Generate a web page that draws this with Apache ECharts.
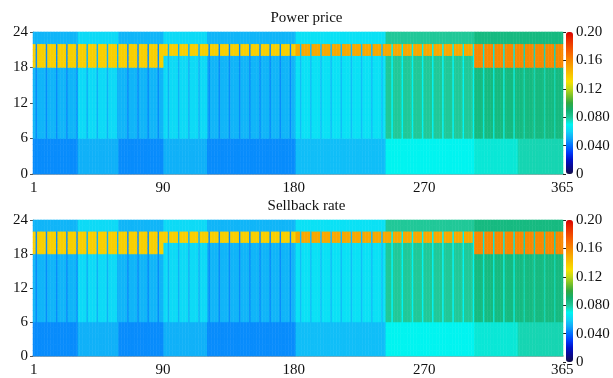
<!DOCTYPE html>
<html style="height: 100%">
<head>
    <meta charset="utf-8">
</head>
<body style="height: 100%; margin: 0">
    <div id="container" style="width: 613px; height: 378px"></div>
    <script src="https://cdn.jsdelivr.net/npm/echarts@6/dist/echarts.min.js"></script>
    <script type="text/javascript">
        // days per month, Jan 1 falls on a Friday (0 = Sunday); Sundays use the rest-day plan
        var monthDays = [31, 28, 31, 30, 31, 30, 31, 31, 30, 31, 30, 31];
        var jan1Weekday = 5;
        var restWeekdays = [0];
        // 'w' = winter plan (long evening peak), 's' = summer plan (short peak)
        var monthSeason = ['w', 'w', 'w', 's', 's', 's', 's', 's', 's', 's', 'w', 'w'];

        // period of every hour: 0 off-peak, 1 mid-peak, 2 on-peak
        var winterHours = [0, 0, 0, 0, 0, 0, 1, 1, 1, 1, 1, 1, 1, 1, 1, 1, 1, 1, 2, 2, 2, 2, 1, 1];
        var summerHours = [0, 0, 0, 0, 0, 0, 1, 1, 1, 1, 1, 1, 1, 1, 1, 1, 1, 1, 1, 1, 2, 2, 1, 1];
        var restDayHours = [0, 0, 0, 0, 0, 0, 0, 0, 0, 0, 0, 0, 0, 0, 0, 0, 0, 0, 0, 0, 0, 0, 1, 1];

        // monthly rates
        var priceOff  = [0.045, 0.052, 0.045, 0.052, 0.045, 0.045, 0.055, 0.055, 0.070, 0.070, 0.073, 0.077];
        var priceMid  = [0.053, 0.062, 0.053, 0.062, 0.053, 0.053, 0.064, 0.064, 0.080, 0.080, 0.086, 0.086];
        var pricePeak = [0.136, 0.136, 0.136, 0.136, 0.136, 0.136, 0.150, 0.150, 0.150, 0.150, 0.160, 0.160];

        var sellOff  = [0.045, 0.052, 0.045, 0.052, 0.045, 0.045, 0.055, 0.055, 0.070, 0.070, 0.073, 0.077];
        var sellMid  = [0.053, 0.062, 0.053, 0.062, 0.053, 0.053, 0.064, 0.064, 0.080, 0.080, 0.086, 0.086];
        var sellPeak = [0.136, 0.136, 0.136, 0.136, 0.136, 0.136, 0.150, 0.150, 0.150, 0.150, 0.160, 0.160];

        var xTickDays = [1, 90, 180, 270, 365];
        var barTicks = [0, 0.04, 0.08, 0.12, 0.16, 0.2];
        var barTickLabels = ['0', '0.040', '0.080', '0.12', '0.16', '0.20'];

        // colour scale, one colour every 0.01 from 0 to 0.20
        var jetColors = ['#141048', '#0a0890', '#0010c8', '#0038f8', '#0070ff', '#10a8f8', '#10d4f8',
            '#00f4f0', '#20c898', '#10b070', '#30a840', '#78c028', '#c0d818', '#f8e000', '#f8c400',
            '#f8a800', '#f88800', '#f86800', '#f04800', '#e82800', '#d80000'];

        var days = [];
        for (var i = 1; i <= 365; i++) days.push(String(i));
        var hours = [];
        for (var h = 0; h < 24; h++) hours.push(String(h));

        function buildCells(off, mid, peak) {
            var cells = [];
            var day = 0;
            monthDays.forEach(function (n, m) {
                var rates = [off[m], mid[m], peak[m]];
                for (var k = 0; k < n; k++) {
                    var dow = (jan1Weekday + day) % 7;
                    var plan = restWeekdays.indexOf(dow) >= 0 ? restDayHours
                        : (monthSeason[m] === 'w' ? winterHours : summerHours);
                    for (var h = 0; h < 24; h++) {
                        cells.push([day, h, rates[plan[h]]]);
                    }
                    day++;
                }
            });
            return cells;
        }

        var font = 'Liberation Serif';
        var gridTops = [32, 220];
        var titles = ['Power price', 'Sellback rate'];

        function dayAxis(gi) {
            return {
                gridIndex: gi, type: 'category', data: days,
                axisLine: { lineStyle: { color: '#8a8a8a', width: 1.5 } },
                axisTick: {
                    alignWithLabel: true, length: 3, lineStyle: { color: '#555' },
                    interval: function (idx) { return xTickDays.indexOf(idx + 1) >= 0; }
                },
                axisLabel: {
                    interval: function (idx) { return xTickDays.indexOf(idx + 1) >= 0; },
                    fontFamily: font, fontSize: 15, color: '#111', margin: 7
                },
                splitLine: { show: false }
            };
        }

        var option = {
            animation: false,
            title: titles.map(function (t, i) {
                return {
                    text: t, left: 'center', top: gridTops[i] - 21, padding: 0,
                    textStyle: { fontFamily: font, fontSize: 15, fontWeight: 'normal', color: '#111' }
                };
            }),
            grid: [
                { left: 33, top: gridTops[0], width: 530, height: 142 },
                { left: 33, top: gridTops[1], width: 530, height: 142 },
                { left: 566, top: gridTops[0], width: 7, height: 142 },
                { left: 566, top: gridTops[1], width: 7, height: 142 }
            ],
            xAxis: [
                dayAxis(0),
                dayAxis(1),
                { gridIndex: 2, type: 'value', show: false },
                { gridIndex: 3, type: 'value', show: false }
            ],
            yAxis: [],
            visualMap: gridTops.map(function (top, i) {
                return {
                    type: 'continuous', min: 0, max: 0.2, seriesIndex: i,
                    left: 566, top: top, itemWidth: 7, itemHeight: 142, padding: 0,
                    calculable: false, hoverLink: false,
                    inRange: { color: jetColors }
                };
            }),
            series: [
                {
                    type: 'heatmap', xAxisIndex: 0, yAxisIndex: 0, progressive: 0,
                    data: buildCells(priceOff, priceMid, pricePeak), emphasis: { disabled: true }
                },
                {
                    type: 'heatmap', xAxisIndex: 1, yAxisIndex: 2, progressive: 0,
                    data: buildCells(sellOff, sellMid, sellPeak), emphasis: { disabled: true }
                }
            ]
        };

        [0, 1].forEach(function (gi) {
            // hidden hour categories for the cells
            option.yAxis.push({ gridIndex: gi, type: 'category', data: hours, show: false });
            // visible hour scale
            option.yAxis.push({
                gridIndex: gi, type: 'value', min: 0, max: 24, interval: 6, position: 'left',
                axisLine: { show: true, lineStyle: { color: '#8a8a8a' } },
                axisTick: { show: true, length: 3, lineStyle: { color: '#555' } },
                axisLabel: { fontFamily: font, fontSize: 15, color: '#111', margin: 5 },
                splitLine: { show: false }
            });
        });
        [2, 3].forEach(function (gi) {
            option.yAxis.push({
                gridIndex: gi, type: 'value', min: 0, max: 0.2, interval: 0.04, position: 'right',
                axisLine: { show: false },
                axisTick: { show: true, inside: true, length: 3, lineStyle: { color: '#222' } },
                axisLabel: {
                    fontFamily: font, fontSize: 15, color: '#111', margin: 3,
                    formatter: function (v) {
                        for (var j = 0; j < barTicks.length; j++) {
                            if (Math.abs(barTicks[j] - v) < 1e-6) return barTickLabels[j];
                        }
                        return '';
                    }
                },
                splitLine: { show: false }
            });
        });

        var myChart = echarts.init(document.getElementById('container'));
        myChart.setOption(option);
    </script>
</body>
</html>
